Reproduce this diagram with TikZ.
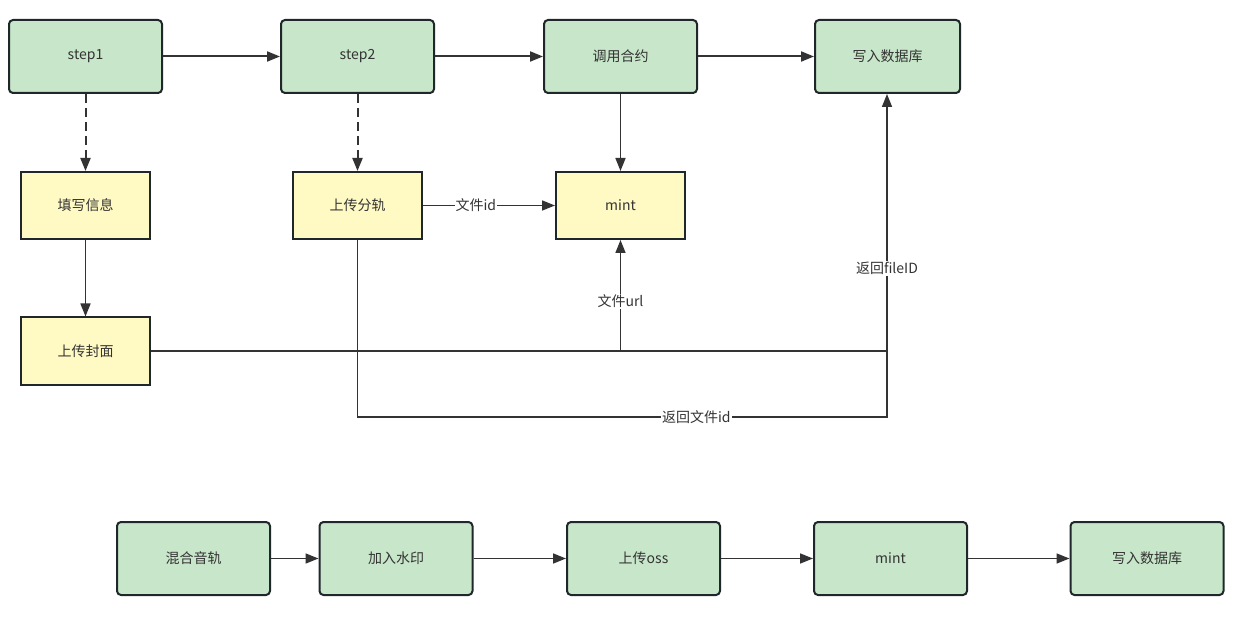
\documentclass[tikz,border=0pt]{standalone}
\usepackage{fontspec}
\setmainfont{Noto Sans CJK SC}
\usetikzlibrary{arrows.meta}
\definecolor{gfill}{HTML}{C8E6C9}
\definecolor{yfill}{HTML}{FFF9C4}
\definecolor{bord}{HTML}{1F272B}
\definecolor{txt}{HTML}{333333}
\definecolor{ln}{HTML}{333333}
\tikzset{
  gbox/.style={draw=bord, fill=gfill, line width=2pt, rounded corners=4pt, minimum width=153pt, minimum height=73pt, inner sep=0pt, text=txt, font=\fontsize{14}{16}\selectfont},
  ybox/.style={draw=bord, fill=yfill, line width=2pt, minimum width=129pt, minimum height=67pt, inner sep=0pt, text=txt, font=\fontsize{14}{16}\selectfont},
  arr/.style={draw=ln, line width=1.6pt, -{Triangle[length=13pt,width=10pt]}},
  thickarr/.style={arr, line width=2pt},
  dasharr/.style={arr, line width=2pt, dash pattern=on 9pt off 5pt},
  plain/.style={draw=ln, line width=1.6pt},
  lbl/.style={fill=white, inner sep=1pt, text=txt, font=\fontsize{14}{16}\selectfont},
}
\begin{document}
\begin{tikzpicture}[x=1pt,y=-1pt]
\useasboundingbox (0,0) rectangle (1255,617);
% top row
\node[gbox] (s1) at (85.5,56.5) {step1};
\node[gbox] (s2) at (357.5,56.5) {step2};
\node[gbox] (hy) at (620.5,56.5) {调用合约};
\node[gbox, minimum width=145pt] (db) at (887.5,56.5) {写入数据库};
% yellow
\node[ybox] (tx) at (85.5,205.5) {填写信息};
\node[ybox] (fz) at (357.5,205.5) {上传分轨};
\node[ybox] (mt) at (620.5,205.5) {mint};
\node[ybox] (fm) at (85.5,351) {上传封面};
% bottom row
\node[gbox] (b1) at (193.5,558.5) {混合音轨};
\node[gbox] (b2) at (396,558.5) {加入水印};
\node[gbox] (b3) at (643.5,558.5) {上传oss};
\node[gbox] (b4) at (890.5,558.5) {mint};
\node[gbox] (b5) at (1147,558.5) {写入数据库};
% coordinates
\coordinate (j1) at (620.5,351);
\coordinate (j2) at (887,351);
\coordinate (j3) at (887,417);
\coordinate (j4) at (357.5,417);
% connectors top
\draw[thickarr] (s1) -- (s2);
\draw[thickarr] (s2) -- (hy);
\draw[thickarr] (hy) -- (db);
\draw[dasharr] (s1) -- (tx);
\draw[dasharr] (s2) -- (fz);
\draw[arr] (hy) -- (mt);
\draw[arr] (fz) -- node[lbl, pos=0.4] {文件id} (mt);
\draw[arr] (tx) -- (fm);
\draw[plain] (fm.east) -- (j2);
\draw[arr] (j1) -- node[lbl, pos=0.45] {文件url} (mt.south);
\draw[arr] (j2) -- node[lbl, pos=0.32] {返回fileID} (db.south -| j2);
\draw[plain] (fz.south) -- (j4) -- node[lbl, pos=0.64] {返回文件id} (j3) -- (j2);
% bottom connectors
\draw[arr] (b1) -- (b2);
\draw[arr] (b2) -- (b3);
\draw[arr] (b3) -- (b4);
\draw[arr] (b4) -- (b5);
\end{tikzpicture}
\end{document}
